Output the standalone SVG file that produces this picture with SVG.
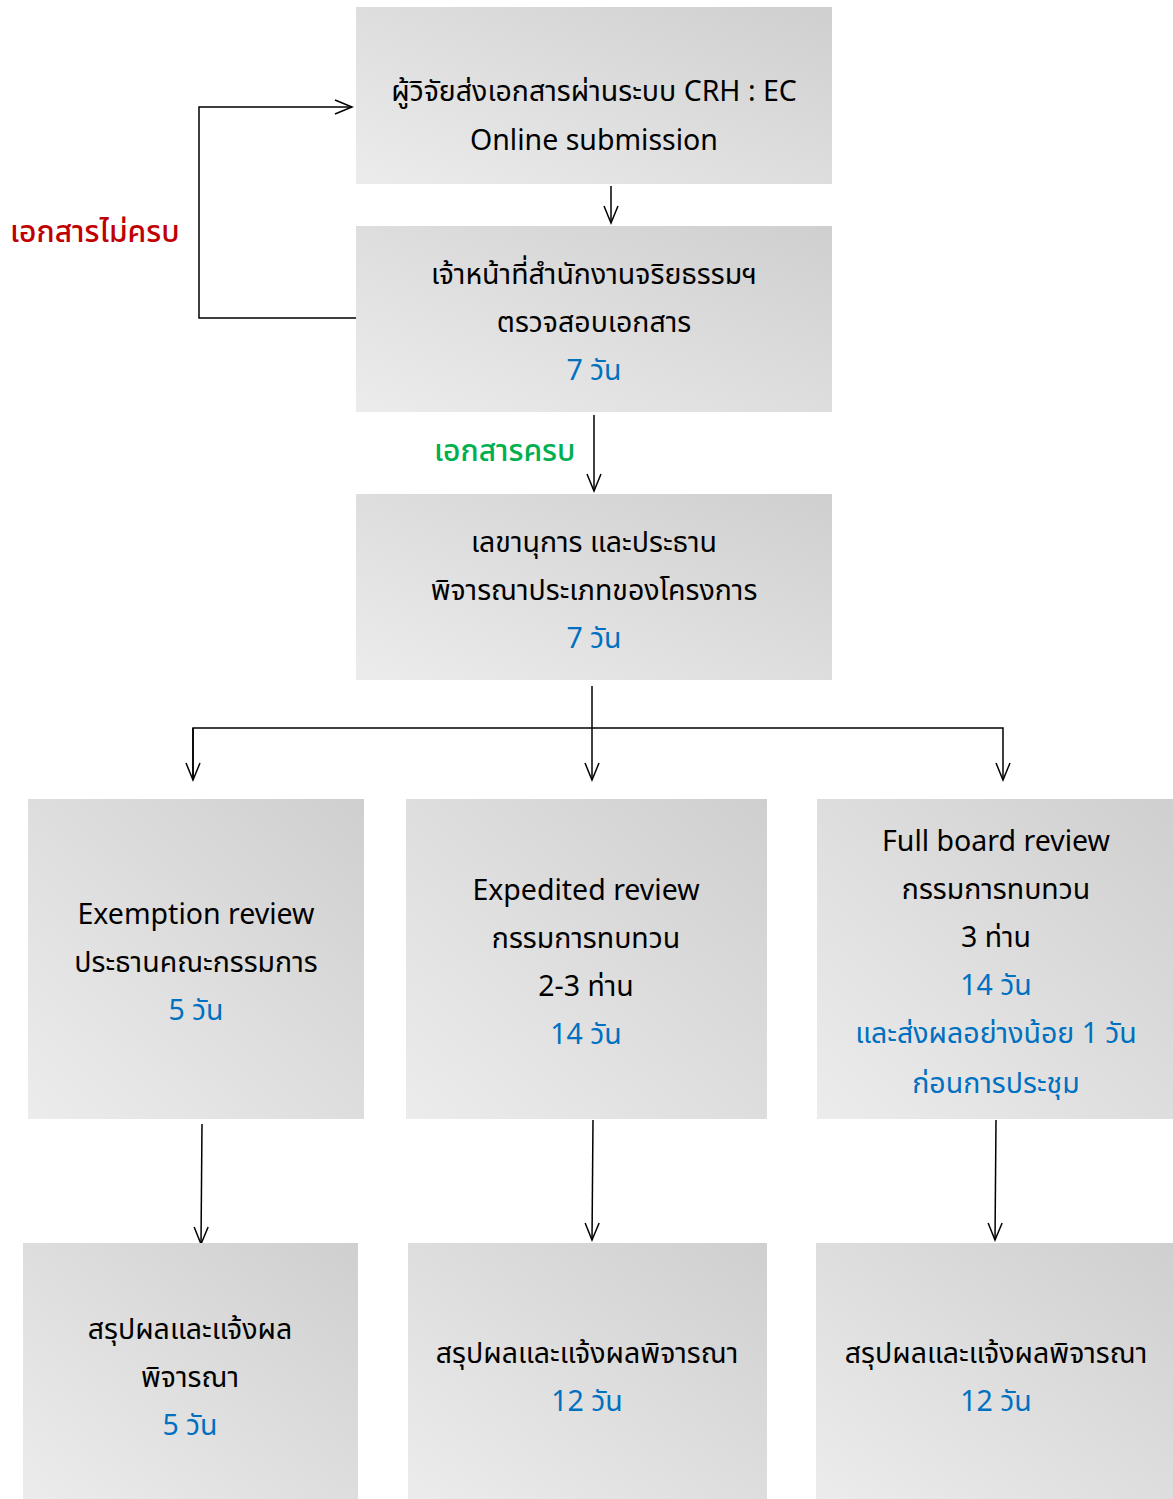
<svg xmlns="http://www.w3.org/2000/svg" width="1173" height="1499" viewBox="0 0 1173 1499">
<defs>
<linearGradient id="g" x1="0" y1="1" x2="1" y2="0">
<stop offset="0" stop-color="#ececec"/>
<stop offset="1" stop-color="#d0cfcf"/>
</linearGradient>
<marker id="a" markerUnits="userSpaceOnUse" markerWidth="22" markerHeight="16" refX="18" refY="7" orient="auto" overflow="visible">
<path d="M1,0 L18,7 L1,14" fill="none" stroke="#000" stroke-width="1.5"/>
</marker>
<style>
.box{fill:url(#g);}
text{font-family:"Noto Sans Thai","Noto Sans","DejaVu Sans",sans-serif;font-size:28.5px;text-anchor:middle;fill:#000;}
.b{fill:#0070c0;}
.r{fill:#c00000;text-anchor:start;font-size:30px;font-weight:500;}
.gr{fill:#00b050;text-anchor:start;font-size:30px;font-weight:500;}
.c{fill:none;stroke:#000;stroke-width:1.5;}
</style>
</defs>
<g id="connectors">
<line class="c" x1="611" y1="186" x2="611" y2="223" marker-end="url(#a)"/>
<polyline class="c" points="358,318 199,318 199,107 352,107" marker-end="url(#a)"/>
<line class="c" x1="594" y1="415" x2="594" y2="491" marker-end="url(#a)"/>
<line class="c" x1="592" y1="686" x2="592" y2="780" marker-end="url(#a)"/>
<polyline class="c" points="193,780 193,728 1003,728 1003,780" marker-end="url(#a)"/>
<line class="c" x1="193" y1="728" x2="193" y2="780" marker-end="url(#a)"/>
<line class="c" x1="202" y1="1124" x2="201" y2="1244" marker-end="url(#a)"/>
<line class="c" x1="593" y1="1120" x2="592" y2="1240" marker-end="url(#a)"/>
<line class="c" x1="996" y1="1120" x2="995" y2="1240" marker-end="url(#a)"/>
<text class="r" x="10" y="242">เอกสารไม่ครบ</text>
<text class="gr" x="434" y="461">เอกสารครบ</text>
</g>
<g id="n1"><rect class="box" x="356" y="7" width="476" height="177"/>
<text x="594" y="101">ผู้วิจัยส่งเอกสารผ่านระบบ CRH : EC</text>
<text x="594" y="150">Online submission</text></g>
<g id="n2"><rect class="box" x="356" y="226" width="476" height="186"/>
<text x="594" y="284">เจ้าหน้าที่สำนักงานจริยธรรมฯ</text>
<text x="594" y="332">ตรวจสอบเอกสาร</text>
<text class="b" x="594" y="380">7 วัน</text></g>
<g id="n3"><rect class="box" x="356" y="494" width="476" height="186"/>
<text x="594" y="552">เลขานุการ และประธาน</text>
<text x="594" y="600">พิจารณาประเภทของโครงการ</text>
<text class="b" x="594" y="648">7 วัน</text></g>
<g id="n4"><rect class="box" x="28" y="799" width="336" height="320"/>
<text x="196" y="924">Exemption review</text>
<text x="196" y="972">ประธานคณะกรรมการ</text>
<text class="b" x="196" y="1020">5 วัน</text></g>
<g id="n5"><rect class="box" x="406" y="799" width="361" height="320"/>
<text x="586" y="900">Expedited review</text>
<text x="586" y="948">กรรมการทบทวน</text>
<text x="586" y="996">2-3 ท่าน</text>
<text class="b" x="586" y="1044">14 วัน</text></g>
<g id="n6"><rect class="box" x="817" y="799" width="356" height="320"/>
<text x="996" y="851">Full board review</text>
<text x="996" y="899">กรรมการทบทวน</text>
<text x="996" y="947">3 ท่าน</text>
<text class="b" x="996" y="995">14 วัน</text>
<text class="b" x="996" y="1043">และส่งผลอย่างน้อย 1 วัน</text>
<text class="b" x="996" y="1093">ก่อนการประชุม</text></g>
<g id="n7"><rect class="box" x="23" y="1243" width="335" height="256"/>
<text x="190" y="1339">สรุปผลและแจ้งผล</text>
<text x="190" y="1387">พิจารณา</text>
<text class="b" x="190" y="1435">5 วัน</text></g>
<g id="n8"><rect class="box" x="408" y="1243" width="359" height="256"/>
<text x="587" y="1363">สรุปผลและแจ้งผลพิจารณา</text>
<text class="b" x="587" y="1411">12 วัน</text></g>
<g id="n9"><rect class="box" x="816" y="1243" width="357" height="256"/>
<text x="996" y="1363">สรุปผลและแจ้งผลพิจารณา</text>
<text class="b" x="996" y="1411">12 วัน</text></g>
</svg>
